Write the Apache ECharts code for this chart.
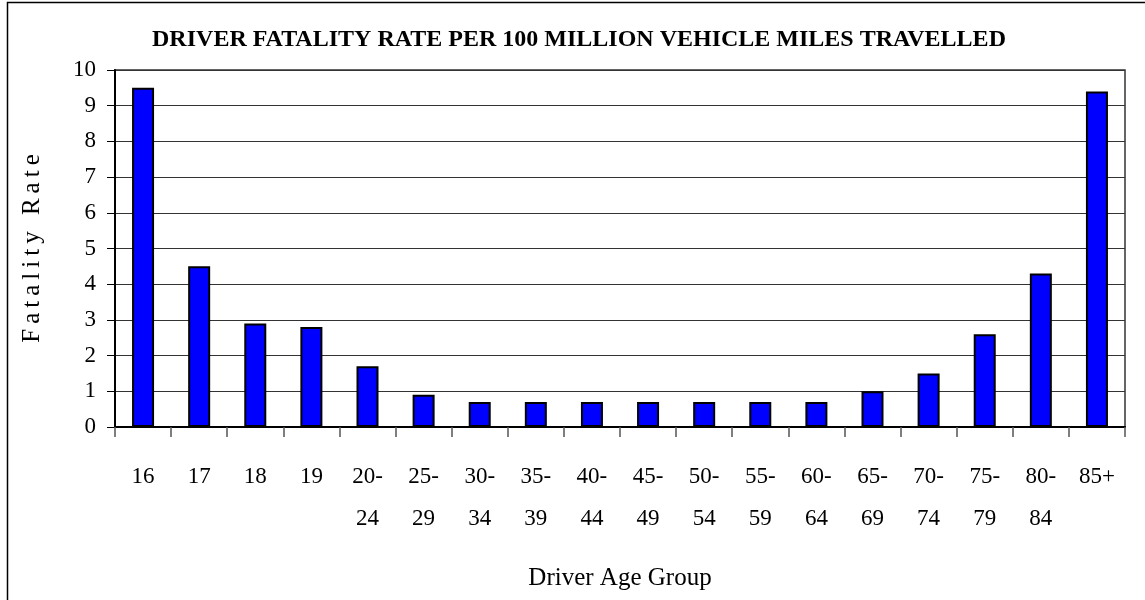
<!DOCTYPE html>
<html>
<head>
<meta charset="utf-8">
<script src="https://cdn.jsdelivr.net/npm/echarts@6/dist/echarts.min.js"></script>
<style>
html,body{margin:0;padding:0;background:#fff;}
#chart{width:1145px;height:600px;}
</style>
</head>
<body>
<div id="chart"></div>
<script>
var titleText = 'DRIVER FATALITY RATE PER 100 MILLION VEHICLE MILES TRAVELLED';
var categories = ['16','17','18','19','20-\n24','25-\n29','30-\n34','35-\n39','40-\n44','45-\n49','50-\n54','55-\n59','60-\n64','65-\n69','70-\n74','75-\n79','80-\n84','85+'];
var fatalityRate = [9.5, 4.5, 2.9, 2.8, 1.7, 0.9, 0.7, 0.7, 0.7, 0.7, 0.7, 0.7, 0.7, 1.0, 1.5, 2.6, 4.3, 9.4];
var yAxisName = 'F\u2009a\u2009t\u2009a\u2009l\u2009i\u2009t\u2009y\u2009 \u2009R\u2009a\u2009t\u2009e';
var xAxisName = 'Driver Age Group';

var FONT = "'Liberation Serif', 'DejaVu Serif', serif";
var chart = echarts.init(document.getElementById('chart'));
chart.setOption({
  backgroundColor: '#fff',
  animation: false,
  title: {
    text: titleText,
    left: 574,
    top: 23,
    textAlign: 'center',
    textStyle: { fontFamily: FONT, fontWeight: 'bold', fontSize: 24, color: '#000' }
  },
  graphic: [{
    type: 'rect',
    shape: { x: 7.5, y: 2.5, width: 1200, height: 700 },
    style: { fill: 'none', stroke: '#000', lineWidth: 1.5 },
    silent: true
  }],
  grid: {
    left: 115, right: 20, top: 70, bottom: 173,
    show: true, borderColor: '#333', borderWidth: 1.5, backgroundColor: 'transparent'
  },
  xAxis: {
    type: 'category',
    data: categories,
    name: xAxisName,
    nameLocation: 'middle',
    nameGap: 139,
    nameTextStyle: { fontFamily: FONT, fontSize: 25, color: '#000' },
    axisLine: { show: true, lineStyle: { color: '#000', width: 2 } },
    axisTick: { show: true, alignWithLabel: false, length: 10, lineStyle: { color: '#555', width: 1.5 } },
    axisLabel: {
      interval: 0, margin: 29,
      fontFamily: FONT, fontSize: 23, color: '#000', lineHeight: 42
    }
  },
  yAxis: {
    type: 'value',
    min: 0, max: 10, interval: 1,
    name: yAxisName,
    nameLocation: 'middle',
    nameRotate: 90,
    nameGap: 70,
    nameTextStyle: { fontFamily: FONT, fontSize: 25, color: '#000' },
    axisLine: { show: true, lineStyle: { color: '#000', width: 2 } },
    axisTick: { show: true, inside: false, length: 8, lineStyle: { color: '#000', width: 1 } },
    axisLabel: { margin: 19, fontFamily: FONT, fontSize: 23, color: '#000' },
    splitLine: { show: true, lineStyle: { color: '#333', width: 1 } }
  },
  series: [{
    type: 'bar',
    data: fatalityRate,
    barWidth: 22,
    itemStyle: { color: '#0000FF', borderColor: '#000', borderWidth: 2 }
  }]
});
</script>
</body>
</html>
